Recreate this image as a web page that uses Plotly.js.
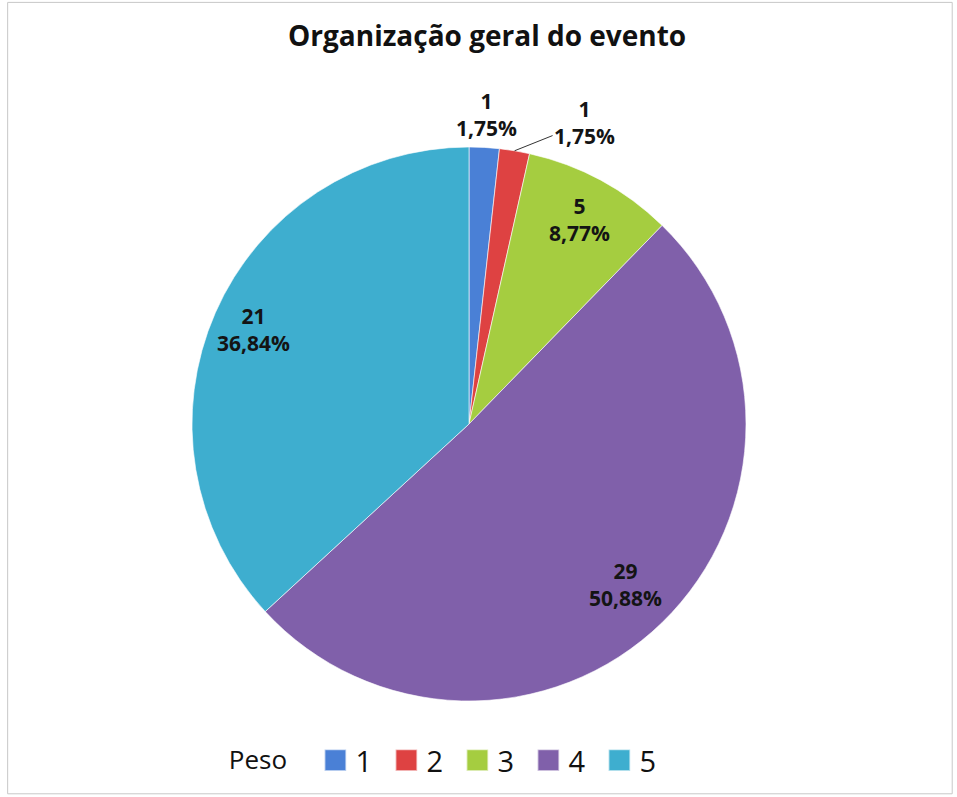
<!DOCTYPE html>
<html><head><meta charset="utf-8">
<script src="https://cdn.plot.ly/plotly-3.0.1.min.js"></script>
<style>html,body{margin:0;padding:0;background:#fff}</style>
</head><body>
<div id="chart" style="width:957px;height:797px"></div>
<script>
const categories = ["1", "2", "3", "4", "5"];
const counts = [1, 1, 5, 29, 21];
const colors = ["#4a80d6", "#de4242", "#a5cd40", "#8060aa", "#3eaecf"];

// geometry (pixels)
const W = 957, H = 797;
const CX = 469, CY = 424, R = 277;
// label radial placement (fraction of radius) and leader offsets per slice (style only)
const labelRadius = [1.12, 1.0, 0.84, 0.81, 0.85];
const leaderOffset = [null, [70, -28], null, null, null];

const total = counts.reduce((a, b) => a + b, 0);
const fmtPct = v => (v / total * 100).toFixed(2).replace(".", ",") + "%";

const annotations = [];
let cum = 0;
counts.forEach((v, i) => {
  const mid = (cum + v / 2) / total * 2 * Math.PI;
  cum += v;
  const f = labelRadius[i];
  const px = CX + f * R * Math.sin(mid);
  const py = CY - f * R * Math.cos(mid);
  const ann = {
    xref: "paper", yref: "paper",
    x: px / W, y: 1 - py / H,
    xanchor: "center", yanchor: "middle",
    text: "<b>" + v + "<br>" + fmtPct(v) + "</b>", align: "center",
    font: {family: "Open Sans, sans-serif", size: 21, color: "#141414"},
    showarrow: false
  };
  if (leaderOffset[i]) {
    ann.showarrow = true;
    ann.arrowhead = 0;
    ann.arrowwidth = 1;
    ann.arrowcolor = "#333";
    ann.ax = leaderOffset[i][0];
    ann.ay = leaderOffset[i][1];
    ann.standoff = 0;
  }
  annotations.push(ann);
});

const trace = {
  type: "pie",
  labels: categories,
  values: counts,
  sort: false,
  direction: "clockwise",
  rotation: 0,
  marker: {colors: colors, line: {color: "rgba(255,255,255,0.6)", width: 1}},
  textinfo: "none",
  domain: {x: [(CX - R) / W, (CX + R) / W], y: [1 - (CY + R) / H, 1 - (CY - R) / H]},
  hoverinfo: "label+value+percent"
};

const layout = {
  width: W, height: H,
  margin: {l: 0, r: 0, t: 0, b: 0},
  paper_bgcolor: "#fff",
  separators: ",.",
  title: {text: "<b>Organização geral do evento</b>", x: 0.509, xanchor: "center", y: 0.954, yanchor: "middle",
          font: {family: "Open Sans, sans-serif", size: 28, color: "#111"}},
  showlegend: true,
  legend: {orientation: "h", x: 0.469, xanchor: "center", y: 0.046, yanchor: "middle",
           title: {text: "Peso \u00a0\u00a0", font: {family: "Open Sans, sans-serif", size: 26, color: "#111"}, side: "left"},
           font: {family: "Open Sans, sans-serif", size: 29, color: "#111"},
           itemwidth: 30, entrywidth: 26, entrywidthmode: "pixels", traceorder: "normal"},
  annotations: annotations,
  shapes: [{type: "rect", xref: "paper", yref: "paper", x0: 0.008, x1: 0.995, y0: 0.004, y1: 0.997,
            line: {color: "#c8c8c8", width: 1}}]
};

Plotly.newPlot("chart", [trace], layout, {displayModeBar: false, staticPlot: true}).then(gd => {
  gd.querySelectorAll(".legend .legendpoints path").forEach(p => {
    p.setAttribute("transform", (p.getAttribute("transform") || "") + " scale(1.8)");
  });
});
</script>
</body></html>
